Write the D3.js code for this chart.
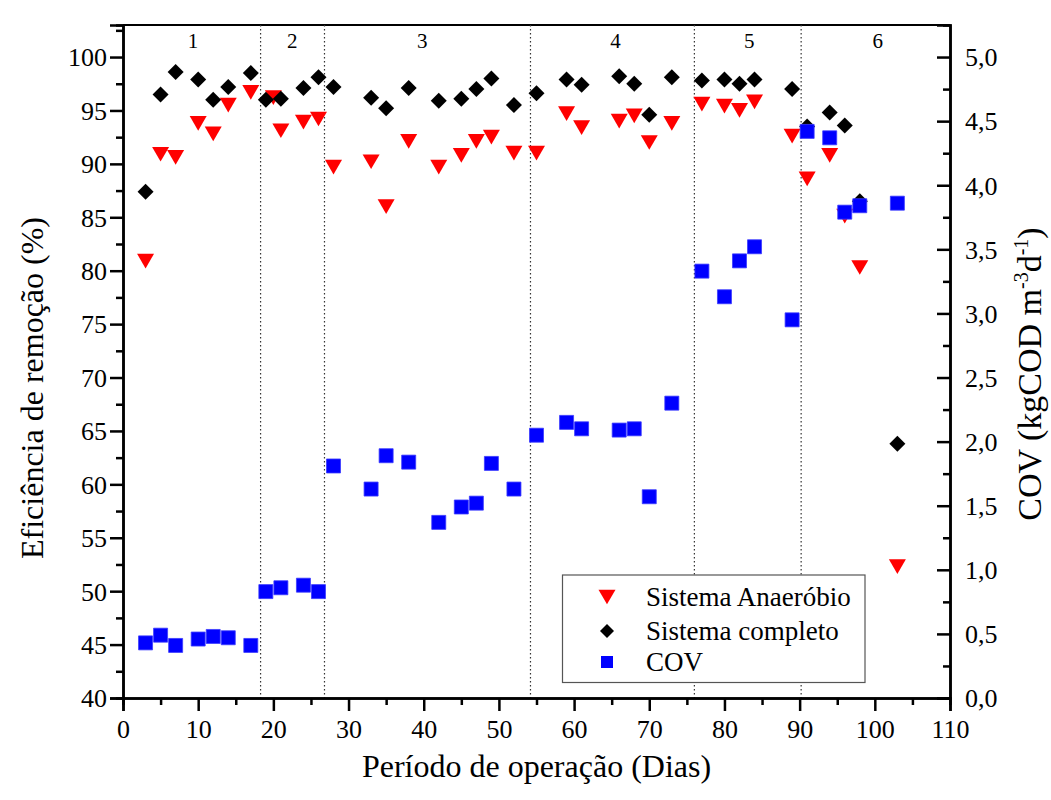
<!DOCTYPE html>
<html>
<head>
<meta charset="utf-8">
<script src="https://cdn.jsdelivr.net/npm/d3@7"></script>
<style>
  html, body { margin: 0; padding: 0; background: #fff; }
  svg { display: block; }
</style>
</head>
<body>
<svg id="chart" width="1051" height="800"></svg>
<script>
// Operating days for each measurement
const daysAnaerobic = [3,5,7,10,12,14,17,20,21,24,26,28,33,35,38,42,45,47,49,52,55,59,61,66,68,70,73,77,80,82,84,89,91,94,96,98,103];
const daysComplete  = [3,5,7,10,12,14,17,19,21,24,26,28,33,35,38,42,45,47,49,52,55,59,61,66,68,70,73,77,80,82,84,89,91,94,96,98,103];
const daysCov       = [3,5,7,10,12,14,17,19,21,24,26,28,33,35,38,42,45,47,49,52,55,59,61,66,68,70,73,77,80,82,84,89,91,94,96,98,103];

// Removal efficiency (%)
const effAnaerobic = [80.9,90.9,90.6,93.8,92.8,95.5,96.7,96.2,93.1,93.9,94.2,89.7,90.2,86.0,92.1,89.7,90.8,92.1,92.5,91.0,91.0,94.7,93.4,94.0,94.5,92.0,93.8,95.6,95.4,95.0,95.8,92.6,88.6,90.8,85.1,80.3,52.3];
const effComplete  = [87.4,96.5,98.6,97.9,96.0,97.2,98.5,96.0,96.1,97.1,98.1,97.2,96.2,95.2,97.1,95.9,96.1,97.0,98.0,95.5,96.6,97.9,97.4,98.2,97.5,94.6,98.1,97.8,97.9,97.5,97.9,97.0,93.5,94.8,93.6,86.5,63.8];

// Organic loading rate (kgCOD m-3 d-1)
const cov = [0.43,0.49,0.41,0.46,0.48,0.47,0.41,0.83,0.86,0.88,0.83,1.81,1.63,1.89,1.84,1.37,1.49,1.52,1.83,1.63,2.05,2.15,2.10,2.09,2.10,1.57,2.30,3.33,3.13,3.41,3.52,2.95,4.42,4.37,3.79,3.84,3.86];

// Operating phases: boundaries and labels
const phaseBounds = [18.3, 26.8, 54.2, 76.0, 90.2];
const phaseLabels = ["1","2","3","4","5","6"];
const phaseLabelX = [9.3, 22.5, 39.8, 65.5, 83.3, 100.4];

const xTicks = [0,10,20,30,40,50,60,70,80,90,100,110];
const yLeftTicks = [40,45,50,55,60,65,70,75,80,85,90,95,100];
const yRightTicks = [0,0.5,1,1.5,2,2.5,3,3.5,4,4.5,5];

const seriesNames = ["Sistema Anaeróbio", "Sistema completo", "COV"];

const FONT = "Liberation Serif";

const svg = d3.select("#chart");
const L = 123, R = 950, T = 25, B = 698;

const x = d3.scaleLinear().domain([0, 110]).range([L, R]);
const yL = d3.scaleLinear().domain([40, 103]).range([B, T]);
const yR = d3.scaleLinear().domain([0, 5.25]).range([B, T]);

const fmtComma = d => d3.format(".1f")(d).replace(".", ",");

// Frame top line
svg.append("line").attr("x1", L).attr("x2", R).attr("y1", T).attr("y2", T)
  .attr("stroke", "#000").attr("stroke-width", 2);

// Phase separators
svg.append("g").selectAll("line").data(phaseBounds).join("line")
  .attr("x1", d => x(d)).attr("x2", d => x(d))
  .attr("y1", T).attr("y2", B)
  .attr("stroke", "#333").attr("stroke-width", 1.2)
  .attr("stroke-dasharray", "1.5,2.5");

svg.append("g").selectAll("text").data(phaseLabels).join("text")
  .attr("x", (d, i) => x(phaseLabelX[i]))
  .attr("y", 48)
  .attr("text-anchor", "middle")
  .attr("font-family", FONT)
  .attr("font-size", 21)
  .attr("fill", "#000")
  .text(d => d);

// Axes
function styleAxis(g) {
  g.attr("font-family", FONT).attr("font-size", 26);
  g.select(".domain").attr("stroke-width", 2.5);
  g.selectAll(".tick line").attr("stroke-width", 2.5);
  g.selectAll("text").attr("font-family", FONT).attr("font-size", 26).attr("fill", "#000");
}

// Minor ticks
const xMinor = d3.axisBottom(x).tickValues(d3.range(5, 110, 10)).tickSize(7).tickFormat("");
svg.append("g").attr("transform", `translate(0,${B})`).call(xMinor).call(styleAxis);
const yLMinor = d3.axisLeft(yL).tickValues(d3.range(42.5, 103, 5)).tickSize(7).tickFormat("");
svg.append("g").attr("transform", `translate(${L},0)`).call(yLMinor).call(styleAxis);
const yRMinor = d3.axisLeft(yR).tickValues(d3.range(0.25, 5.25, 0.5)).tickSize(7).tickFormat("");
svg.append("g").attr("transform", `translate(${R},0)`).call(yRMinor).call(styleAxis);

const xAxis = svg.append("g").attr("transform", `translate(0,${B})`)
  .call(d3.axisBottom(x).tickValues(xTicks).tickSize(13))
  .call(styleAxis);
xAxis.selectAll(".tick text").attr("y", 40).attr("dy", 0);

const yLAxis = svg.append("g").attr("transform", `translate(${L},0)`)
  .call(d3.axisLeft(yL).tickValues(yLeftTicks).tickSize(13).tickPadding(3))
  .call(styleAxis);
yLAxis.selectAll(".tick text").attr("dy", "0.34em");

// Right axis: ticks point inward, labels outside
const yRAxis = svg.append("g").attr("transform", `translate(${R},0)`)
  .call(d3.axisLeft(yR).tickValues(yRightTicks).tickSize(13).tickFormat(fmtComma))
  .call(styleAxis);
yRAxis.selectAll(".tick text").attr("text-anchor", "start").attr("x", 15).attr("dy", "0.34em");

// Axis titles
svg.append("text").attr("x", x(55)).attr("y", 777).attr("text-anchor", "middle")
  .attr("font-family", FONT).attr("font-size", 32).attr("fill", "#000")
  .text("Período de operação (Dias)");

svg.append("text").attr("transform", `translate(43,388) rotate(-90)`)
  .attr("text-anchor", "middle")
  .attr("font-family", FONT).attr("font-size", 32).attr("fill", "#000")
  .text("Eficiência de remoção (%)");

const rt = svg.append("text").attr("transform", `translate(1041,374) rotate(-90)`)
  .attr("text-anchor", "middle")
  .attr("font-family", FONT).attr("font-size", 34).attr("fill", "#000");
rt.append("tspan").text("COV (kgCOD m");
rt.append("tspan").attr("font-size", 20).attr("dy", -13).text("-3");
rt.append("tspan").attr("dy", 13).text("d");
rt.append("tspan").attr("font-size", 20).attr("dy", -13).text("-1");
rt.append("tspan").attr("dy", 13).text(")");

// Marker shapes
const triSize = 125;
const triH = Math.sqrt(triSize * 4 / Math.sqrt(3)) * Math.sqrt(3) / 2;
const triPath = d3.symbol(d3.symbolTriangle, triSize)();
const diaPath = d3.symbol(d3.symbolSquare, 128)();
const sqPath = d3.symbol(d3.symbolSquare, 196)();

const triTransform = (cx, cy) => `translate(${cx},${cy - triH / 6}) rotate(180)`;
const diaTransform = (cx, cy) => `translate(${cx},${cy}) rotate(45)`;
const sqTransform = (cx, cy) => `translate(${cx},${cy})`;

svg.append("g").selectAll("path").data(effAnaerobic).join("path")
  .attr("d", triPath).attr("fill", "#ff0000")
  .attr("transform", (d, i) => triTransform(x(daysAnaerobic[i]), yL(d)));

svg.append("g").selectAll("path").data(effComplete).join("path")
  .attr("d", diaPath).attr("fill", "#000")
  .attr("transform", (d, i) => diaTransform(x(daysComplete[i]), yL(d)));

svg.append("g").selectAll("path").data(cov).join("path")
  .attr("d", sqPath).attr("fill", "#0000ff").attr("stroke", "#3a3aff").attr("stroke-width", 0.8)
  .attr("transform", (d, i) => sqTransform(x(daysCov[i]), yR(d)));

// Legend
const lg = svg.append("g");
lg.append("rect").attr("x", 562.5).attr("y", 575).attr("width", 302.5).attr("height", 107.5)
  .attr("fill", "#fff").attr("stroke", "#555").attr("stroke-width", 1.2);
const legendRows = [
  { path: triPath, fill: "#ff0000", tf: triTransform },
  { path: d3.symbol(d3.symbolSquare, 98)(), fill: "#000", tf: diaTransform },
  { path: d3.symbol(d3.symbolSquare, 144)(), fill: "#0000ff", tf: sqTransform }
];
const rowY = [597, 631, 662];
legendRows.forEach((r, i) => {
  lg.append("path").attr("d", r.path).attr("fill", r.fill).attr("transform", r.tf(607, rowY[i]));
  lg.append("text").attr("x", 646).attr("y", rowY[i] + 9)
    .attr("font-family", FONT).attr("font-size", 27).attr("fill", "#000")
    .text(seriesNames[i]);
});
</script>
</body>
</html>
